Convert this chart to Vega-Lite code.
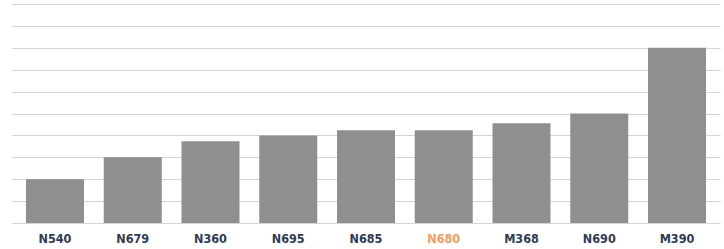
{
  "$schema": "https://vega.github.io/schema/vega-lite/v6.json",
  "width": 708,
  "height": 219,
  "autosize": {"type": "none"},
  "padding": {"left": 12, "top": 4, "right": 4, "bottom": 26},
  "background": "white",
  "data": {"values": [
    {"model": "N540", "value": 2.0},
    {"model": "N679", "value": 3.0},
    {"model": "N360", "value": 3.73},
    {"model": "N695", "value": 4.0},
    {"model": "N685", "value": 4.23},
    {"model": "N680", "value": 4.23},
    {"model": "M368", "value": 4.55},
    {"model": "N690", "value": 5.0},
    {"model": "M390", "value": 8.0}
  ]},
  "mark": {"type": "bar", "color": "#8f8f8f"},
  "encoding": {
    "x": {
      "field": "model", "type": "nominal", "sort": null,
      "scale": {"paddingInner": 0.254, "paddingOuter": 0.18},
      "axis": {
        "title": null, "domain": false, "ticks": false, "labelAngle": 0,
        "labelPadding": 9, "labelFont": "DejaVu Sans Condensed", "labelFontWeight": "bold",
        "labelFontSize": 12.5,
        "labelColor": {"expr": "datum.value === 'N680' ? '#f79a5e' : '#2e3b55'"}
      }
    },
    "y": {
      "field": "value", "type": "quantitative",
      "scale": {"domain": [0, 10], "nice": false},
      "axis": {
        "title": null, "domain": false, "ticks": false, "labels": false,
        "tickCount": 10, "gridColor": "#d4d4d4", "gridWidth": 1, "gridOpacity": 1
      }
    }
  },
  "config": {"view": {"stroke": null}}
}
